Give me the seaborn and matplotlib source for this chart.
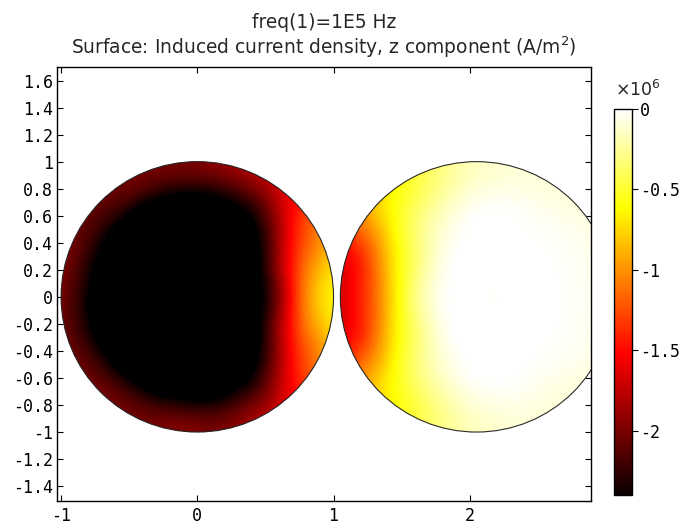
import numpy as np
import matplotlib
matplotlib.use("Agg")
import matplotlib.pyplot as plt
import matplotlib.tri as mtri
import seaborn as sns
from matplotlib.patches import Circle
from matplotlib.colors import Normalize

# ---------------- data (values in 1e6 A/m^2) ----------------
left_center = (0.0, 0.0)
right_center = (2.05, 0.0)
radius = 1.0

# Samples on polar rings (angle in degrees from +x, upper half; lower half mirrors).
# The last ring (1.05) holds the boundary values, just outside the clipped disc.
left_r = [0.0, 0.5, 0.7, 0.85, 1.05]
left_theta = [0, 20, 40, 60, 90, 120, 150, 180]
left_vals = [
    [-2.70, -2.70, -2.70, -2.70, -2.70, -2.70, -2.70, -2.70],   # r = 0
    [-2.35, -2.40, -2.60, -2.70, -2.70, -2.70, -2.70, -2.70],   # r = 0.5
    [-1.45, -1.60, -2.10, -2.45, -2.55, -2.60, -2.60, -2.60],   # r = 0.7
    [-0.90, -1.15, -1.65, -2.10, -2.20, -2.25, -2.30, -2.30],   # r = 0.85
    [-0.60, -0.85, -1.35, -1.70, -1.95, -2.00, -2.00, -1.95],   # r = 1 (edge)
]

right_r = [0.0, 0.3, 0.5, 0.7, 0.85, 1.05]
right_theta = [0, 30, 60, 90, 120, 140, 160, 180]
right_vals = [
    [0.00, 0.00, 0.00, 0.00, 0.00, 0.00, 0.00, 0.00],           # r = 0
    [0.00, 0.00, 0.00, 0.00, 0.00, -0.04, -0.07, -0.08],        # r = 0.3
    [0.00, 0.00, 0.00, 0.00, -0.10, -0.25, -0.38, -0.42],       # r = 0.5
    [-0.02, -0.02, -0.02, -0.05, -0.25, -0.50, -0.85, -1.00],   # r = 0.7
    [-0.04, -0.04, -0.06, -0.12, -0.40, -0.70, -1.25, -1.40],   # r = 0.85
    [-0.06, -0.08, -0.10, -0.15, -0.55, -0.90, -1.50, -1.75],   # r = 1 (edge)
]

x_ticks = [-1, 0, 1, 2]
x_labels = ["-1", "0", "1", "2"]
y_ticks = [1.6, 1.4, 1.2, 1.0, 0.8, 0.6, 0.4, 0.2, 0.0, -0.2, -0.4, -0.6, -0.8, -1.0, -1.2, -1.4]
y_labels = ["1.6", "1.4", "1.2", "1", "0.8", "0.6", "0.4", "0.2", "0",
            "-0.2", "-0.4", "-0.6", "-0.8", "-1", "-1.2", "-1.4"]
cb_ticks = [0, -0.5, -1, -1.5, -2]
cb_labels = ["0", "-0.5", "-1", "-1.5", "-2"]
vmin, vmax = -2.4, 0.0

title1 = "freq(1)=1E5 Hz"
title2 = "Surface: Induced current density, z component (A/m$^2$)"

# ---------------- figure ----------------
sns.set_theme(style="white")
plt.rcParams["font.family"] = ["DejaVu Sans"]
tick_font = "DejaVu Sans Mono"

fig = plt.figure(figsize=(6.8, 5.24), dpi=100)
ax = fig.add_axes([57 / 680, 1 - 501 / 524, (591 - 57) / 680, (501 - 67) / 524])
cax = fig.add_axes([614 / 680, 1 - 495 / 524, 18 / 680, (495 - 109) / 524])

norm = Normalize(vmin=vmin, vmax=vmax)
cmap = plt.get_cmap("hot").with_extremes(under="black", over="white")


def polar_samples(r, theta, vals, center):
    t = np.deg2rad(np.array(theta, dtype=float))
    t_full = np.concatenate([t, 2 * np.pi - t[-2:0:-1]])
    v = np.array(vals, dtype=float)
    v_full = np.hstack([v, v[:, -2:0:-1]])
    xs, ys, zs = [center[0]], [center[1]], [v[0, 0]]
    for i in range(1, len(r)):
        xs.extend(center[0] + r[i] * np.cos(t_full))
        ys.extend(center[1] + r[i] * np.sin(t_full))
        zs.extend(v_full[i])
    return np.array(xs), np.array(ys), np.array(zs)


mappable = None
for r, th, vals, c in [(left_r, left_theta, left_vals, left_center),
                       (right_r, right_theta, right_vals, right_center)]:
    xs, ys, zs = polar_samples(r, th, vals, c)
    tri = mtri.Triangulation(xs, ys)
    interp = mtri.CubicTriInterpolator(tri, zs, kind="min_E")
    refiner = mtri.UniformTriRefiner(tri)
    tri_f, z_f = refiner.refine_field(zs, triinterpolator=interp, subdiv=4)
    mappable = ax.tripcolor(tri_f, z_f, shading="gouraud", cmap=cmap, norm=norm, zorder=1)
    clip = Circle(c, radius, transform=ax.transData)
    mappable.set_clip_path(clip)
    ax.add_patch(Circle(c, radius, fill=False, ec="#2a2a2a", lw=0.8, zorder=2))

ax.set_xlim(-1.03, 2.89)
ax.set_ylim(-1.51, 1.70)
ax.set_xticks(x_ticks)
ax.set_xticklabels(x_labels, family=tick_font)
ax.set_yticks(y_ticks)
ax.set_yticklabels(y_labels, family=tick_font)
ax.tick_params(axis="both", direction="in", length=4, width=0.8, color="black",
               labelsize=12, labelcolor="black", top=True, right=True, bottom=True, left=True)
ax.tick_params(axis="x", pad=4)
ax.tick_params(axis="y", pad=3)
for s in ax.spines.values():
    s.set_visible(True)
    s.set_color("black")
    s.set_linewidth(1.0)
ax.set_facecolor("white")
ax.grid(False)

cb = fig.colorbar(mappable, cax=cax, ticks=cb_ticks, extend="neither")
cb.ax.set_yticklabels(cb_labels, family=tick_font)
cb.ax.tick_params(direction="out", length=4, width=0.8, labelsize=12, color="black",
                  labelcolor="black", right=True, left=False, pad=2)
cb.outline.set_edgecolor("black")
cb.outline.set_linewidth(1.0)

fig.text(615 / 680, 1 - 90 / 524, r"$\times10^{6}$", fontsize=12.5, ha="left", va="center")

fig.text(324 / 680, 1 - 22 / 524, title1, fontsize=13.4, ha="center", va="center")
fig.text(324 / 680, 1 - 47 / 524, title2, fontsize=13.4, ha="center", va="center")

fig.savefig("out.png", dpi=100, facecolor="white")
